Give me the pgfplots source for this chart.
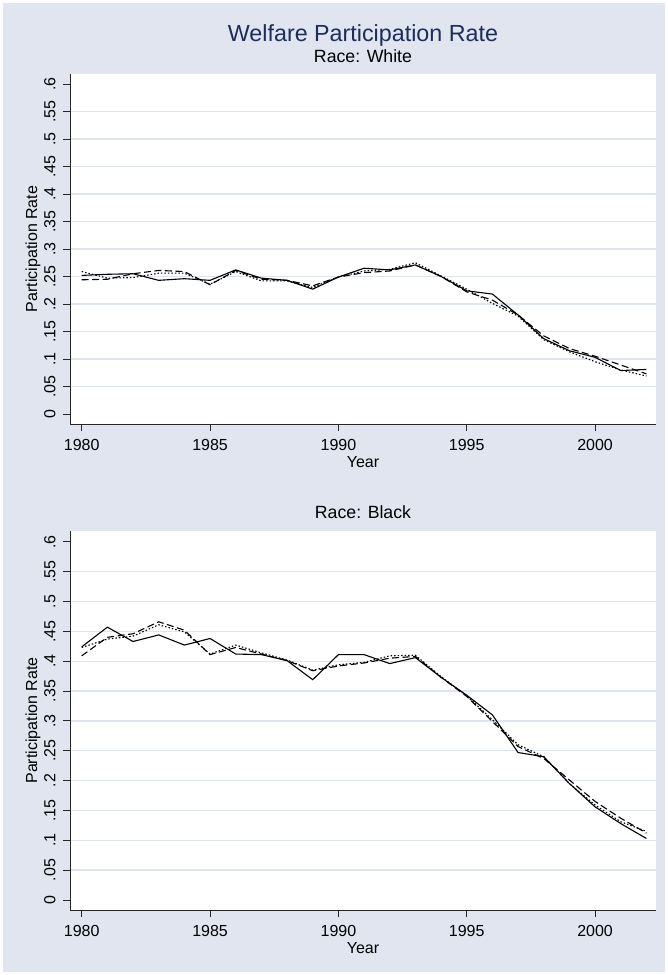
\documentclass[border=0pt]{standalone}
\usepackage{pgfplots}
\usepackage{pgfplotstable}
\pgfplotsset{compat=1.18}
\usepackage{fontspec}
\setmainfont{Liberation Sans}
\definecolor{bg}{RGB}{224,229,240}
\definecolor{gridc}{RGB}{222,229,241}
\definecolor{titlec}{RGB}{30,45,90}
\newcommand\tk{\fontsize{16bp}{19bp}\selectfont}
\newcommand\sub{\fontsize{17.7bp}{21bp}\selectfont}
\newcommand\ttl{\fontsize{23.3bp}{27bp}\selectfont}

\pgfplotstableread{
year s d o
1980 .252 .244 .259
1981 .254 .245 .247
1982 .255 .255 .248
1983 .243 .261 .256
1984 .246 .259 .256
1985 .243 .235 .236
1986 .262 .261 .259
1987 .247 .245 .242
1988 .243 .243 .242
1989 .227 .233 .230
1990 .249 .249 .249
1991 .265 .257 .260
1992 .262 .260 .263
1993 .271 .271 .275
1994 .250 .250 .251
1995 .224 .222 .227
1996 .218 .207 .201
1997 .180 .180 .178
1998 .137 .142 .135
1999 .115 .119 .113
2000 .103 .105 .095
2001 .079 .089 .080
2002 .081 .073 .069
}\tabW

\pgfplotstableread{
year s d o
1980 .424 .409 .423
1981 .457 .440 .437
1982 .433 .446 .442
1983 .444 .466 .461
1984 .427 .452 .449
1985 .438 .411 .412
1986 .412 .423 .427
1987 .411 .412 .414
1988 .401 .401 .402
1989 .369 .384 .385
1990 .411 .392 .394
1991 .411 .397 .398
1992 .396 .405 .409
1993 .406 .408 .410
1994 .373 .373 .374
1995 .343 .341 .342
1996 .310 .299 .302
1997 .247 .257 .260
1998 .240 .237 .240
1999 .195 .201 .195
2000 .156 .165 .159
2001 .128 .137 .131
2002 .103 .112 .115
}\tabB

\pgfplotsset{
  welf/.style={
    scale only axis, width=586bp,
    xmin=1979.544, xmax=2002.373,
    axis x line*=bottom, axis y line*=left,
    axis line style={-, black!85, line width=0.9bp},
    axis background/.style={fill=white},
    xtick={1980,1985,1990,1995,2000},
    xticklabels={1980,1985,1990,1995,2000},
    ytick={0.05,0.1,0.15,0.2,0.25,0.3,0.35,0.4,0.45,0.5,0.55},
    yticklabels={.05,.1,.15,.2,.25,.3,.35,.4,.45,.5,.55},
    extra y ticks={0,0.6},
    extra y tick labels={0,.6},
    extra y tick style={grid=none},
    tick align=outside, major tick length=7bp,
    tick style={black!85, line width=0.9bp},
    ymajorgrids, grid style={gridc, line width=1.3bp},
    every tick label/.append style={font=\tk, text=black},
    xticklabel style={anchor=base, yshift=-19.5bp},
    yticklabel style={xshift=-7.7bp, rotate=90, anchor=base},
    xlabel={Year}, ylabel={Participation Rate},
    label style={font=\tk},
    title style={font=\sub, anchor=base},
  },
  s/.style={black, line width=1.1bp},
  d/.style={black, line width=1.1bp, dash pattern=on 7bp off 3.5bp},
  o/.style={black, line width=1.1bp, dash pattern=on 1.5bp off 2bp},
}

\begin{document}
\begin{tikzpicture}[x=1bp,y=1bp]
\useasboundingbox (0,0) rectangle (668,975);
\fill[white] (0,0) rectangle (668,975);
\fill[bg] (3,3) rectangle (665,972);
\node[font=\ttl, text=titlec, anchor=base] at (363,933) {Welfare Participation Rate};

\begin{axis}[welf, at={(70bp,551bp)}, anchor=south west, height=350bp,
  ymin=-0.01818, ymax=0.6182,
  title={Race: White},
  title style={at={(axis description cs:0.5,1)}, yshift=5.5bp},
  xlabel style={at={(axis description cs:0.5,-0.1086)}, anchor=center},
  ylabel style={at={(axis description cs:-0.063,0.5)}, anchor=center},
]
\addplot[s] table[x=year,y=s] {\tabW};
\addplot[d] table[x=year,y=d] {\tabW};
\addplot[o] table[x=year,y=o] {\tabW};
\end{axis}

\begin{axis}[welf, at={(70bp,65bp)}, anchor=south west, height=379bp,
  ymin=-0.01675, ymax=0.6181,
  title={Race: Black},
  title style={at={(axis description cs:0.5,1)}, yshift=6.4bp},
  xlabel style={at={(axis description cs:0.5,-0.1003)}, anchor=center},
  ylabel style={at={(axis description cs:-0.063,0.5)}, anchor=center},
]
\addplot[s] table[x=year,y=s] {\tabB};
\addplot[d] table[x=year,y=d] {\tabB};
\addplot[o] table[x=year,y=o] {\tabB};
\end{axis}
\end{tikzpicture}
\end{document}
